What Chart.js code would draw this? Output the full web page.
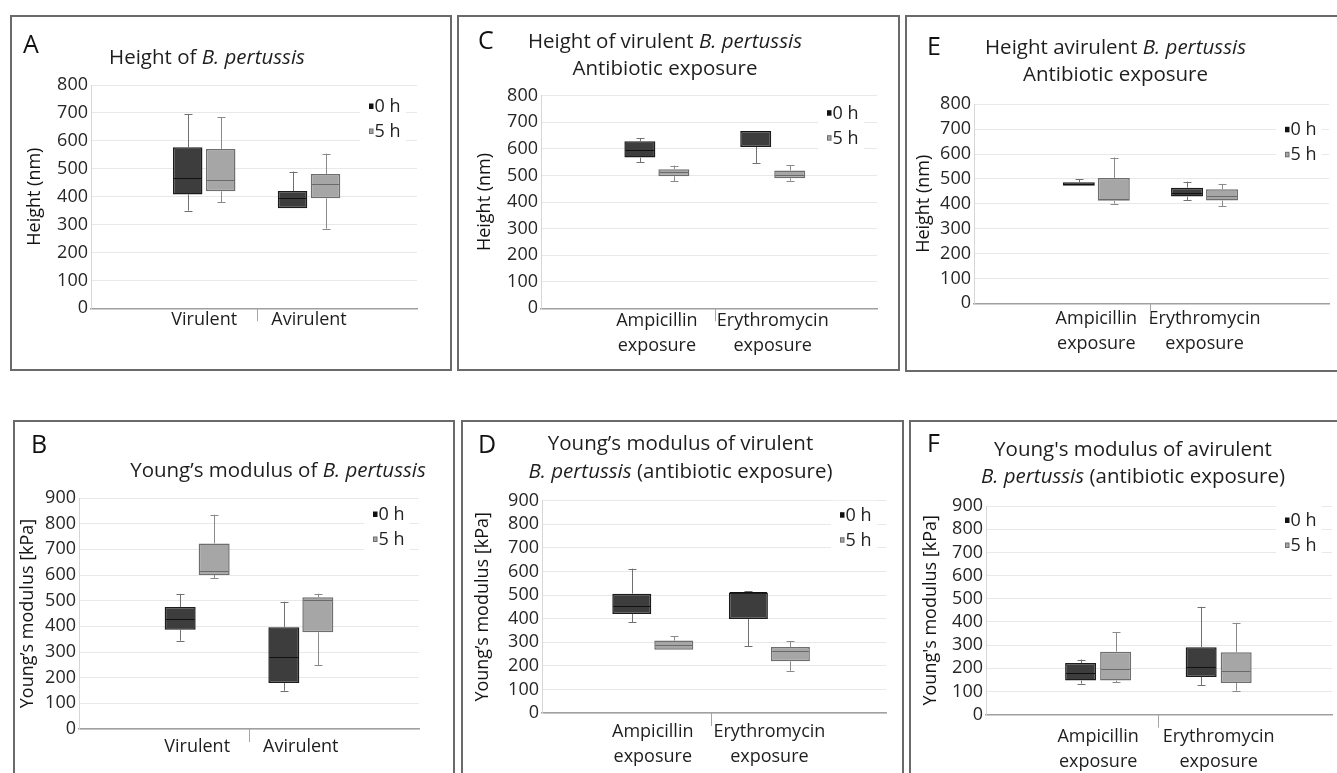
<!DOCTYPE html>
<html>
<head>
<meta charset="utf-8">
<script src="https://cdn.jsdelivr.net/npm/chart.js@4.4.1/dist/chart.umd.min.js"></script>
<style>
html, body { margin: 0; padding: 0; background: #fff; overflow: hidden; width: 1337px; height: 773px; }
body { position: relative; font-family: 'Open Sans', sans-serif; color: #222; }
.panel { position: absolute; box-sizing: border-box; border: 2px solid #6a6a6a; }
canvas { position: absolute; }
.letter { position: absolute; font-size: 25px; line-height: normal; color: #111; }
.title { position: absolute; width: 500px; text-align: center; font-size: 20.5px; line-height: 27.5px; color: #1e1e1e; white-space: nowrap; }
</style>
</head>
<body>
<script>
// categories and series
const strainCats = ['Virulent', 'Avirulent'];
const antibioticCats = [['Ampicillin', 'exposure'], ['Erythromycin', 'exposure']];
const seriesLabels = ['0 h', '5 h'];

// five-number summaries per category: [min, q1, median, q3, max]
const heightStrain0h = [[350, 408, 466, 577, 695], [358, 358, 395, 420, 490]];
const heightStrain5h = [[380, 419, 458, 571, 684], [285, 394, 444, 481, 554]];
const modulusStrain0h = [[344, 387, 429, 475, 526], [149, 179, 281, 396, 496]];
const modulusStrain5h = [[587, 600, 614, 723, 835], [248, 377, 503, 513, 527]];
const heightVir0h = [[549, 567, 596, 629, 640], [545, 607, 667, 667, 667]];
const heightVir5h = [[479, 497, 514, 523, 537], [480, 489, 502, 519, 539]];
const modulusVir0h = [[384, 420, 452, 506, 612], [283, 398, 511, 511, 516]];
const modulusVir5h = [[268, 268, 290, 307, 325], [179, 219, 263, 280, 304]];
const heightAvir0h = [[473, 473, 480, 487, 499], [414, 429, 442, 465, 489]];
const heightAvir5h = [[401, 412, 420, 504, 586], [390, 413, 432, 458, 480]];
const modulusAvir0h = [[134, 147, 181, 223, 238], [127, 163, 206, 291, 465]];
const modulusAvir5h = [[140, 147, 196, 272, 356], [104, 137, 187, 269, 396]];

Chart.defaults.font.family = "'Open Sans', sans-serif";

const fontSize = 18;
const multiLH = 25 / fontSize;
const panels = [
  { letter: 'A', title: 'Height of <i>B. pertussis</i>', titleCx: 207, titleTop: 42.8, letterPos: [23, 26.3],
    box: { x: 10, y: 15, w: 442, h: 356 }, plot: { l: 91, t: 85, r: 417, b: 308.3 },
    cats: strainCats, s0: heightStrain0h, s1: heightStrain5h, yMax: 800, yTitle: 'Height (nm)', yTitleX: 35,
    xMin: -0.08, xMax: 3.03, chunk: 33, barW: 29.5, labelPad: 1, labelLH: 1.2, legend: [-48, 21] },
  { letter: 'B', title: 'Young’s modulus of <i>B. pertussis</i>', titleCx: 278, titleTop: 455.8, letterPos: [31, 426.3],
    box: { x: 13, y: 420, w: 442, h: 370 }, plot: { l: 79, t: 498, r: 419, b: 729 },
    cats: strainCats, s0: modulusStrain0h, s1: modulusStrain5h, yMax: 900, yTitle: 'Young’s modulus [kPa]', yTitleX: 28,
    xMin: -0.14, xMax: 3.14, chunk: 34, barW: 31, labelPad: 7, labelLH: 1.2, legend: [-46, 16] },
  { letter: 'C', title: 'Height of virulent <i>B. pertussis</i><br>Antibiotic exposure', titleCx: 665, titleTop: 26.8, letterPos: [478, 21.6],
    box: { x: 457, y: 15, w: 443, h: 356 }, plot: { l: 541, t: 95.7, r: 877, b: 308.3 },
    cats: antibioticCats, s0: heightVir0h, s1: heightVir5h, yMax: 800, yTitle: 'Height (nm)', yTitleX: 485,
    xMin: 0, xMax: 2.9, chunk: 34, barW: 31, labelPad: 0, labelLH: multiLH, legend: [-50, 17] },
  { letter: 'D', title: 'Young’s modulus of virulent<br><i>B. pertussis</i> (antibiotic exposure)', titleCx: 680.5, titleTop: 429.2, letterPos: [478, 426.3],
    box: { x: 461, y: 420, w: 443, h: 370 }, plot: { l: 542, t: 500.7, r: 886, b: 713 },
    cats: antibioticCats, s0: modulusVir0h, s1: modulusVir5h, yMax: 900, yTitle: 'Young’s modulus [kPa]', yTitleX: 483,
    xMin: 0.05, xMax: 3.0, chunk: 42, barW: 39, labelPad: 6.5, labelLH: multiLH, legend: [-46, 14] },
  { letter: 'E', title: 'Height avirulent <i>B. pertussis</i><br>Antibiotic exposure', titleCx: 1115.5, titleTop: 32.8, letterPos: [927, 27.6],
    box: { x: 905, y: 15, w: 440, h: 357 }, plot: { l: 974, t: 104.3, r: 1329, b: 303.3 },
    cats: antibioticCats, s0: heightAvir0h, s1: heightAvir5h, yMax: 800, yTitle: 'Height (nm)', yTitleX: 924,
    xMin: -0.13, xMax: 3.15, chunk: 35, barW: 32, labelPad: 3, labelLH: multiLH, legend: [-44, 25] },
  { letter: 'F', title: 'Young\'s modulus of avirulent<br><i>B. pertussis</i> (antibiotic exposure)', titleCx: 1133, titleTop: 434.8, letterPos: [927, 424.6],
    box: { x: 909, y: 420, w: 440, h: 370 }, plot: { l: 986, t: 506, r: 1332, b: 714.7 },
    cats: antibioticCats, s0: modulusAvir0h, s1: modulusAvir5h, yMax: 900, yTitle: 'Young\'s modulus [kPa]', yTitleX: 931,
    xMin: 0.07, xMax: 2.94, chunk: 35, barW: 31, labelPad: 10, labelLH: multiLH, legend: [-47, 14] }
];

const seriesStyle = [
  { fill: '#3d3d3d', border: '#1c1c1c', median: '#111111', whisker: '#707070' },
  { fill: '#a6a6a6', border: '#6e6e6e', median: '#6a6a6a', whisker: '#8a8a8a' }
];

// whiskers, medians and the divider tick between categories
const boxPlotPlugin = {
  id: 'boxPlot',
  afterDatasetsDraw(chart) {
    const { ctx, scales: { x, y } } = chart;
    ctx.save();
    const dx = Math.round(x.getPixelForValue(1.5)) + 0.5;
    ctx.strokeStyle = '#a6a6a6';
    ctx.lineWidth = 1;
    ctx.beginPath();
    ctx.moveTo(dx, y.bottom);
    ctx.lineTo(dx, y.bottom + 13);
    ctx.stroke();

    chart.data.datasets.forEach((ds, di) => {
      const st = seriesStyle[di];
      chart.getDatasetMeta(di).data.forEach((bar, i) => {
        const [lo, q1, med, q3, hi] = ds.stats[i];
        const cx = Math.round(bar.x) + 0.5;
        const half = bar.width / 2;
        ctx.strokeStyle = st.whisker;
        ctx.lineWidth = 1;
        const seg = (a, b) => {
          if (a === b) return;
          const pa = y.getPixelForValue(a), pb = y.getPixelForValue(b);
          ctx.beginPath();
          ctx.moveTo(cx, pa);
          ctx.lineTo(cx, pb);
          ctx.moveTo(cx - 4, Math.round(pb) + 0.5);
          ctx.lineTo(cx + 4, Math.round(pb) + 0.5);
          ctx.stroke();
        };
        seg(q3, hi);
        seg(q1, lo);
        const pm = Math.round(y.getPixelForValue(med)) + 0.5;
        ctx.strokeStyle = st.median;
        ctx.beginPath();
        ctx.moveTo(bar.x - half + 1, pm);
        ctx.lineTo(bar.x + half - 1, pm);
        ctx.stroke();
      });
    });
    ctx.restore();
  }
};

// legend box in the upper right of the plot
const boxLegendPlugin = {
  id: 'boxLegend',
  beforeDatasetsDraw(chart, args, opts) {
    const { ctx, chartArea } = chart;
    const lx = chartArea.right + opts.dx;
    const ly = chartArea.top + opts.dy;
    ctx.save();
    ctx.fillStyle = '#ffffff';
    ctx.fillRect(lx - 9, ly - 14, 46, 53);
    ctx.font = fontSize + "px 'Open Sans', sans-serif";
    ctx.textBaseline = 'middle';
    chart.data.datasets.forEach((ds, i) => {
      const yy = ly + i * 25;
      const st = seriesStyle[i];
      ctx.fillStyle = i === 0 ? '#111' : st.border;
      ctx.fillRect(lx, yy - 2.5, 4.5, 5.5);
      if (i === 1) {
        ctx.fillStyle = st.fill;
        ctx.fillRect(lx + 1, yy - 1.5, 2.5, 3.5);
      }
      ctx.fillStyle = '#222';
      ctx.fillText(ds.label, lx + 5.5, yy + 1);
    });
    ctx.restore();
  }
};

panels.forEach(p => {
  const div = document.createElement('div');
  div.className = 'panel';
  Object.assign(div.style, { left: p.box.x + 'px', top: p.box.y + 'px', width: p.box.w + 'px', height: p.box.h + 'px' });
  document.body.appendChild(div);

  const canvas = document.createElement('canvas');
  canvas.width = p.box.w;
  canvas.height = p.box.h;
  Object.assign(canvas.style, { left: p.box.x + 'px', top: p.box.y + 'px', width: p.box.w + 'px', height: p.box.h + 'px' });
  document.body.appendChild(canvas);

  const letter = document.createElement('div');
  letter.className = 'letter';
  letter.textContent = p.letter;
  Object.assign(letter.style, { left: p.letterPos[0] + 'px', top: p.letterPos[1] + 'px' });
  document.body.appendChild(letter);

  const title = document.createElement('div');
  title.className = 'title';
  title.innerHTML = p.title;
  Object.assign(title.style, { left: (p.titleCx - 250) + 'px', top: p.titleTop + 'px' });
  document.body.appendChild(title);

  const titleLH = fontSize * 1.2;
  const yLeft = p.yTitleX - titleLH / 2;
  const yWidth = p.plot.l - yLeft;
  const xHeight = 58;
  const slot = (p.plot.r - p.plot.l) / (p.xMax - p.xMin);
  const catPct = 2 * p.chunk / slot;
  const barPct = p.barW / p.chunk;

  const makeSet = (i, stats) => ({
    label: seriesLabels[i],
    data: stats.map((s, k) => ({ x: k + 1, y: [s[1], s[3]] })),
    stats: stats,
    backgroundColor: seriesStyle[i].fill,
    borderColor: seriesStyle[i].border,
    borderWidth: 1.5,
    borderSkipped: false,
    categoryPercentage: catPct,
    barPercentage: barPct
  });

  new Chart(canvas, {
    type: 'bar',
    data: { datasets: [makeSet(0, p.s0), makeSet(1, p.s1)] },
    options: {
      responsive: false,
      animation: false,
      events: [],
      layout: {
        padding: {
          left: yLeft - p.box.x,
          top: p.plot.t - p.box.y,
          right: p.box.x + p.box.w - p.plot.r,
          bottom: p.box.y + p.box.h - p.plot.b - xHeight
        }
      },
      plugins: {
        legend: { display: false },
        tooltip: { enabled: false },
        boxLegend: { dx: p.legend[0], dy: p.legend[1] }
      },
      scales: {
        x: {
          type: 'linear',
          min: p.xMin,
          max: p.xMax,
          bounds: 'data',
          offset: false,
          afterFit: s => { s.height = xHeight; },
          afterBuildTicks: s => { s.ticks = p.cats.map((c, k) => ({ value: k + 1 })); },
          ticks: {
            autoSkip: false,
            maxRotation: 0,
            padding: p.labelPad,
            color: '#1e1e1e',
            font: { size: fontSize, lineHeight: p.labelLH },
            callback: v => p.cats[Math.round(v) - 1]
          },
          grid: { display: false, drawTicks: false, offset: false },
          border: { display: true, color: '#a0a0a0', width: 1.5 }
        },
        y: {
          min: 0,
          max: p.yMax,
          afterFit: s => { s.width = yWidth; },
          ticks: { stepSize: 100, autoSkip: false, padding: 3, color: '#262626', font: { size: fontSize } },
          grid: { color: '#e8e8e8', drawTicks: false },
          border: { color: '#d6d6d6', width: 1 },
          title: { display: true, text: p.yTitle, color: '#141414', font: { size: fontSize }, padding: 0 }
        }
      }
    },
    plugins: [boxPlotPlugin, boxLegendPlugin]
  });
});
</script>
</body>
</html>
